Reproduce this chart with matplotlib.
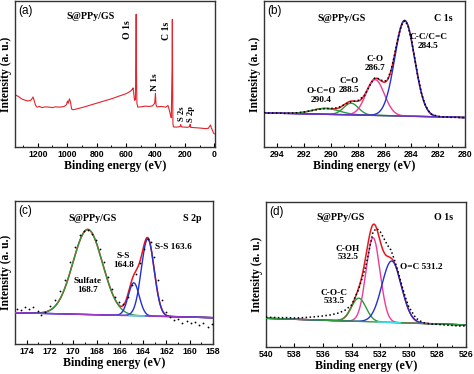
import numpy as np
import matplotlib
matplotlib.use("Agg")
import matplotlib.pyplot as plt
from matplotlib.ticker import MultipleLocator

# (a) survey spectrum (intensity in a.u., 0-100)
SURVEY_EV = [1355, 1330, 1310, 1290, 1270, 1250, 1240, 1232, 1225, 1215, 1205, 1190, 1170,
             1150, 1120, 1100, 1080, 1050, 1020, 1005, 998, 993, 985, 978, 970, 960, 940,
             900, 850, 800, 750, 700, 650, 600, 570, 558, 552, 548, 542, 536, 533, 531,
             529, 526, 520, 500, 470, 440, 420, 405, 400, 396, 390, 360, 330, 315, 305,
             298, 292, 287, 285, 283, 281, 278, 260, 240, 232, 228, 224, 200, 180, 168,
             164, 160, 140, 100, 60, 40, 30, 25, 20, 12, 5, 0]
SURVEY_I = [35.9, 34.5, 33.0, 32.2, 31.6, 31.8, 33.0, 34.3, 32.0, 28.5, 27.3, 27.8, 27.0,
            27.5, 27.3, 27.0, 27.5, 27.3, 27.8, 29.0, 31.5, 30.0, 33.0, 31.0, 26.0, 25.5, 26.0,
            27.0, 28.5, 30.0, 31.5, 33.0, 34.8, 36.5, 38.2, 39.5, 40.5, 37.0, 32.0, 32.5, 60.0, 91.0,
            50.0, 30.0, 27.3, 27.5, 28.0, 27.8, 28.2, 30.0, 36.8, 29.0, 27.5, 27.8, 27.3, 28.5, 25.0,
            22.0, 20.0, 55.0, 87.5, 40.0, 16.0, 13.8, 13.6, 13.8, 14.2, 15.3, 13.8, 13.6, 13.5, 14.0,
            15.5, 13.4, 13.3, 13.0, 12.6, 12.8, 14.5, 15.0, 13.0, 11.5, 9.5, 9.0]
SURVEY_LABELS = ["O 1s", "N 1s", "C 1s", "S 2s", "S 2p"]

# (b) C 1s fit
C1S_NAMES = ["O-C=O\n290.4", "C=O\n288.5", "C-O\n286.7", "C-C/C=C\n284.5"]
C1S_CENTER = [290.4, 288.5, 286.7, 284.5]
C1S_HEIGHT = [4.0, 8.0, 24.5, 65.5]
C1S_FWHM = [2.4, 1.3, 1.6, 1.75]
C1S_BG_EV = [280, 295]
C1S_BG_I = [20.2, 23.4]
C1S_DOTS_EV = [295, 294.5, 294, 293.5, 293, 292.5, 292, 291.5, 291, 290.5, 290, 289.5, 289,
               288.5, 288, 287.5, 287, 286.75, 286.5, 286.25, 286, 285.75, 285.5, 285.25, 285,
               284.75, 284.5, 284.25, 284, 283.75, 283.5, 283.25, 283, 282.75, 282.5, 282,
               281.5, 281, 280.5, 280]
C1S_DOTS_I = [23.5, 23.2, 23.3, 23.0, 23.2, 23.5, 24.0, 24.8, 25.7, 26.3, 26.4, 26.9, 29.0,
              31.0, 31.8, 35.2, 44.0, 47.2, 47.0, 45.8, 44.9, 46.8, 53.4, 63.5, 74.8,
              83.4, 86.6, 83.3, 73.6, 60.8, 47.6, 37.0, 29.6, 25.1, 22.4, 21.0,
              20.6, 20.3, 20.3, 20.1]

# (c) S 2p fit
S2P_NAMES = ["Sulfate\n168.7", "S-S\n164.8", "S-S 163.6"]
S2P_CENTER = [168.75, 164.8, 163.6]
S2P_HEIGHT = [59.5, 23.0, 54.0]
S2P_FWHM = [3.0, 1.1, 1.3]
S2P_BG_EV = [158, 175]
S2P_BG_I = [18.4, 21.9]
S2P_DOTS_EV = [174.86, 174.48, 174.14, 173.80, 173.43, 173.05, 172.77, 172.42, 171.99, 171.57,
               171.14, 170.71, 170.28, 169.85, 169.42, 169.08, 168.76, 168.42, 168.05, 167.70,
               167.33, 166.99, 166.70, 166.41, 166.07, 165.70, 165.33, 164.98, 164.64, 164.27,
               163.90, 163.61, 163.32, 163.04, 162.75, 162.41, 162.06, 161.69, 161.32, 160.98,
               160.63, 160.26, 159.89, 159.55, 159.20, 158.83, 158.46, 158.11]
S2P_DOTS_I = [24.4, 23.7, 25.6, 24.7, 25.6, 23.3, 20.2, 22.6, 26.5, 30.7,
              37.2, 45.1, 57.4, 67.9, 76.0, 79.1, 79.5, 77.2, 73.0, 66.7,
              57.4, 47.0, 38.8, 33.0, 29.5, 27.9, 33.0, 41.2, 48.8, 56.3,
              66.7, 73.7, 71.4, 60.9, 44.7, 30.7, 22.6, 18.6, 16.7, 17.2,
              14.9, 16.3, 14.4, 15.6, 13.3, 14.9, 12.1, 14.0]

# (d) O 1s fit
O1S_NAMES = ["C-O-C\n533.5", "C-OH\n532.5", "O=C 531.2"]
O1S_CENTER = [533.5, 532.5, 531.2]
O1S_HEIGHT = [16.0, 58.0, 42.4]
O1S_FWHM = [1.2, 1.15, 1.6]
O1S_BG_EV = [526, 540]
O1S_BG_I = [15.2, 19.8]
O1S_DOTS_EV = [540, 539.5, 539, 538.5, 538, 537.5, 537, 536.5, 536, 535.5, 535, 534.5, 534,
               533.5, 533, 532.75, 532.5, 532.25, 532, 531.75, 531.5, 531.25, 531, 530.75,
               530.5, 530.25, 530, 529.5, 529, 528.5, 528, 527.5, 527, 526.5, 526]
O1S_DOTS_I = [20.5, 20.4, 20.2, 20.3, 20.0, 20.2, 20.5, 20.9, 21.4, 22.1, 23.2, 25.1, 29.0,
              40.0, 56.0, 68.0, 79.5, 81.8, 79.5, 75.0, 70.3, 66.9, 60.0, 52.0,
              42.8, 34.7, 27.8, 19.8, 16.8, 15.9, 15.6, 15.2, 14.9, 14.5, 14.5]

RED = "#e8161e"
PINK = "#ec3c96"
BLUE = "#2430d0"
GREEN = "#2e9a3c"
PURPLE = "#a238c8"
CYAN = "#3ee0e8"
SERIF = "Liberation Serif"
SANS = "Liberation Sans"


def gauss(x, center, height, fwhm):
    sigma = fwhm / 2.3548
    return height * np.exp(-(x - center) ** 2 / (2 * sigma ** 2))


def style_axes(ax, xlim, major, minor, panel):
    ax.set_xlim(*xlim)
    ax.set_ylim(0, 100)
    ax.set_yticks([])
    ax.xaxis.set_major_locator(MultipleLocator(major))
    ax.xaxis.set_minor_locator(MultipleLocator(minor))
    ax.tick_params(axis="x", which="major", direction="in", length=3, width=0.8,
                   labelsize=6.3, pad=2.5)
    ax.tick_params(axis="x", which="minor", direction="in", length=1.6, width=0.7)
    for lbl in ax.get_xticklabels():
        lbl.set_fontweight("bold")
        lbl.set_fontfamily(SANS)
    for sp in ax.spines.values():
        sp.set_color("#333333")
        sp.set_linewidth(1.0)
    ax.set_xlabel("Binding energy (eV)", fontfamily=SERIF, fontweight="bold",
                  fontsize=8.6, labelpad=0.5)
    ax.set_ylabel("Intensity (a. u.)", fontfamily=SERIF, fontweight="bold",
                  fontsize=8.4, labelpad=2)
    ax.text(0.018, 0.975, panel, transform=ax.transAxes, ha="left", va="top",
            fontfamily=SANS, fontsize=8.5)


def bold_text(ax, x, y, s, size=6.7, **kw):
    ax.text(x, y, s, ha="center", va="center", fontfamily=SERIF, fontweight="bold",
            fontsize=size, linespacing=1.15, **kw)


def draw_fit(ax, xlim, bg_ev, bg_i, centers, heights, fwhms, colors, dots_ev, dots_i,
             bg_color, cyan_span=None, dotted=True):
    x = np.linspace(min(xlim), max(xlim), 800)
    bg = np.interp(x, bg_ev, bg_i)
    comps = [gauss(x, c, h, w) for c, h, w in zip(centers, heights, fwhms)]
    ax.plot(x, bg + np.sum(comps, axis=0), color=RED, lw=1.1, zorder=2)
    for comp, col in zip(comps, colors):
        ax.plot(x, bg + comp, color=col, lw=1.0, zorder=3)
    ax.plot(x, bg, color=bg_color, lw=1.0, zorder=3)
    if cyan_span is not None:
        m = (x >= cyan_span[0]) & (x <= cyan_span[1])
        ax.plot(x[m], bg[m], color=CYAN, lw=1.1, zorder=3)
    if dotted:
        ax.plot(dots_ev, dots_i, color="black", lw=1.1, ls=(0, (1, 1.6)), zorder=4)
    else:
        ax.plot(dots_ev, dots_i, "o", color="black", ms=1.3, mew=0, zorder=4)


def main():
    fig = plt.figure(figsize=(4.74, 3.74), dpi=100)
    fig.patch.set_facecolor("white")

    ax_a = fig.add_axes([0.0316, 0.607, 0.422, 0.390])
    ax_b = fig.add_axes([0.557, 0.607, 0.424, 0.390])
    ax_c = fig.add_axes([0.0316, 0.0802, 0.4177, 0.3824])
    ax_d = fig.add_axes([0.561, 0.0722, 0.422, 0.3877])

    # (a) survey
    ax_a.plot(SURVEY_EV, SURVEY_I, color="#e3242b", lw=0.8)
    style_axes(ax_a, (1355, -5), 200, 100, "(a)")
    bold_text(ax_a, 838, 89.3, "S@PPy/GS", size=7.2)
    label_pos = [(587, 80.4), (403, 44.3), (328, 79.7), (219, 22.5), (160, 22.5)]
    label_size = [7.0, 6.8, 7.0, 6.2, 6.2]
    for s, (x, y), fs in zip(SURVEY_LABELS, label_pos, label_size):
        bold_text(ax_a, x, y, s, size=fs, rotation=90)

    # (b) C 1s
    draw_fit(ax_b, (295, 280), C1S_BG_EV, C1S_BG_I, C1S_CENTER, C1S_HEIGHT, C1S_FWHM,
             [GREEN, GREEN, PINK, BLUE], C1S_DOTS_EV, C1S_DOTS_I, "#6a34c8")
    style_axes(ax_b, (295, 280), 2, 1, "(b)")
    bold_text(ax_b, 289.2, 88.4, "S@PPy/GS", size=7.2)
    bold_text(ax_b, 281.6, 88.4, "C 1s", size=7.2)
    for s, (x, y) in zip(C1S_NAMES, [(290.75, 35.0), (288.65, 42.2), (286.7, 57.5), (282.75, 72.6)]):
        bold_text(ax_b, x, y, s)

    # (c) S 2p
    draw_fit(ax_c, (175, 158), S2P_BG_EV, S2P_BG_I, S2P_CENTER, S2P_HEIGHT, S2P_FWHM,
             [GREEN, BLUE, BLUE], S2P_DOTS_EV, S2P_DOTS_I, PURPLE,
             cyan_span=(163.9, 165.2), dotted=False)
    style_axes(ax_c, (175, 158), 2, 1, "(c)")
    bold_text(ax_c, 168.3, 87.9, "S@PPy/GS", size=7.2)
    bold_text(ax_c, 159.8, 87.9, "S 2p", size=7.2)
    for s, (x, y) in zip(S2P_NAMES, [(168.73, 40.9), (165.7, 58.3), (161.44, 67.7)]):
        bold_text(ax_c, x, y, s)

    # (d) O 1s
    draw_fit(ax_d, (540, 526), O1S_BG_EV, O1S_BG_I, O1S_CENTER, O1S_HEIGHT, O1S_FWHM,
             [GREEN, PINK, BLUE], O1S_DOTS_EV, O1S_DOTS_I, GREEN,
             cyan_span=(530.6, 532.2))
    style_axes(ax_d, (540, 526), 2, 1, "(d)")
    bold_text(ax_d, 534.75, 89.0, "S@PPy/GS", size=7.2)
    bold_text(ax_d, 527.6, 89.0, "O 1s", size=7.2)
    for s, (x, y) in zip(O1S_NAMES, [(535.2, 34.5), (534.26, 64.8), (529.15, 55.2)]):
        bold_text(ax_d, x, y, s)

    fig.savefig("out.png", dpi=100, facecolor="white")
    plt.close(fig)


if __name__ == "__main__":
    main()
